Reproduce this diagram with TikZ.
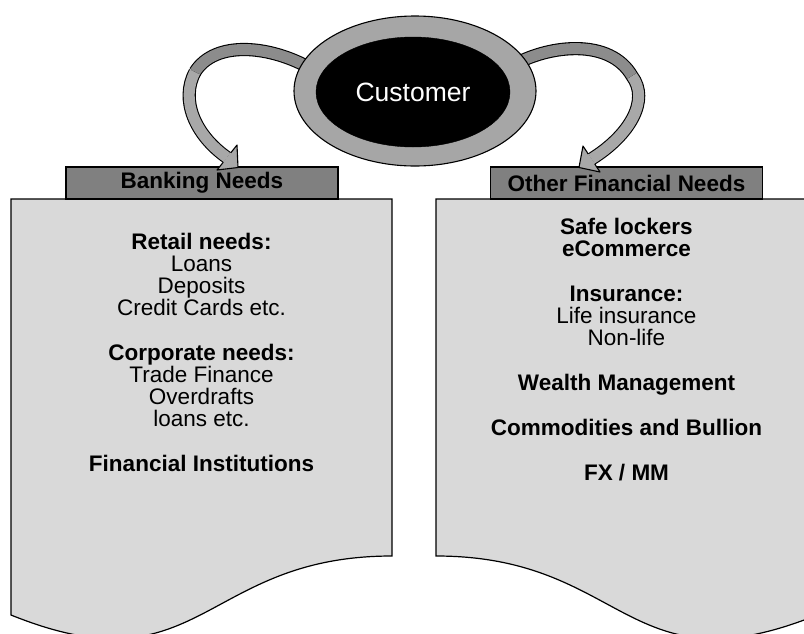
\documentclass[tikz,border=0pt]{standalone}
\usepackage{fontspec}
\setmainfont{Liberation Sans}
\usetikzlibrary{calc,shapes.geometric}
\definecolor{tabgray}{HTML}{808080}
\definecolor{bodygray}{HTML}{D9D9D9}
\definecolor{ringgray}{HTML}{A6A6A6}
\definecolor{darkband}{HTML}{8C8C8C}
\definecolor{lightband}{HTML}{A8A8A8}
\tikzset{
  needbody/.style={draw=black, fill=bodygray, line width=1.2pt},
  needtab/.style={draw=black, fill=tabgray, line width=1.2pt, minimum width=272pt,
    minimum height=32pt, inner sep=0pt, font=\bfseries\fontsize{22.5}{22}\selectfont},
  needlist/.style={align=center, inner sep=0pt, anchor=north, font=\fontsize{22.5}{22}\selectfont},
  band/.style={draw=black, line width=1.1pt, double distance=11pt, double=#1},
  bandhead/.style={draw=black, line width=1.1pt, line join=round}
}
\begin{document}
\begin{tikzpicture}[x=1pt,y=-1pt]
  \useasboundingbox (0,0) rectangle (804,633);
  \clip (0,0) rectangle (804,633);
  % the two document shapes
  \draw[needbody] (11,199) -- (392,199) -- (392,556)
        .. controls (201.5,556) and (201.5,692) .. (11,615) -- cycle;
  \draw[needbody] (436,199) -- (817,199) -- (817,615)
        .. controls (626.5,692) and (626.5,556) .. (436,556) -- cycle;
  \node[needtab] (banktab) at (202,183) {Banking Needs};
  \node[needtab] (othertab) at (626.5,183) {Other Financial Needs};
  \node[needlist] (banklist) at (201.5,233) {\textbf{Retail needs:}\\ Loans\\ Deposits\\
    Credit Cards etc.\\[23pt] \textbf{Corporate needs:}\\ Trade Finance\\ Overdrafts\\
    loans etc.\\[23pt] \textbf{Financial Institutions}};
  \node[needlist] (otherlist) at (626.5,217.6) {\textbf{Safe lockers}\\ \textbf{eCommerce}\\[23pt]
    \textbf{Insurance:}\\ Life insurance\\ Non-life\\[23pt] \textbf{Wealth Management}\\[23pt]
    \textbf{Commodities and Bullion}\\[23pt] \textbf{FX / MM}};
  % customer ring (placed first so the bands can start on it)
  \node[ellipse, minimum width=242pt, minimum height=150pt, inner sep=0pt] (customer) at (415,91) {};
  \coordinate (lfold) at (195,72);
  \coordinate (lbase) at (227,157.5);
  \coordinate (lb1) at (237,145);
  \coordinate (ltip) at (238,167.5);
  \coordinate (lb2) at (217,170);
  \coordinate (rfold) at (632,76);
  \coordinate (rbase) at (591.5,159);
  \coordinate (rb1) at (583,146);
  \coordinate (rtip) at (579,167.5);
  \coordinate (rb2) at (600,172);
  % curved arrows to the tabs
  \draw[band=darkband] ($(customer.center)!0.9!(customer.168)$) .. controls (270,45) and (215,40) .. (lfold);
  \draw[band=lightband] (lfold) .. controls (180,100) and (195,135) .. (lbase);
  \fill[lightband] (lb1) -- (ltip) -- (lb2) -- cycle;
  \draw[bandhead] ($(lbase)!6pt!(lb1)$) -- (lb1) -- (ltip) -- (lb2) -- ($(lbase)!6pt!(lb2)$);
  \draw[band=darkband] ($(customer.center)!0.9!(customer.15)$) .. controls (550,45) and (610,38) .. (rfold);
  \draw[band=lightband] (rfold) .. controls (650,100) and (630,135) .. (rbase);
  \fill[lightband] (rb1) -- (rtip) -- (rb2) -- cycle;
  \draw[bandhead] ($(rbase)!6pt!(rb1)$) -- (rb1) -- (rtip) -- (rb2) -- ($(rbase)!6pt!(rb2)$);
  \draw[draw=black, fill=ringgray, line width=1.1pt] (customer.center) ellipse [x radius=121, y radius=75];
  \node[ellipse, draw=black, fill=black, minimum width=194pt, minimum height=110pt, inner sep=0pt,
    text=white, font=\fontsize{26.5}{30}\selectfont] (core) at (413,92) {Customer};
\end{tikzpicture}
\end{document}
